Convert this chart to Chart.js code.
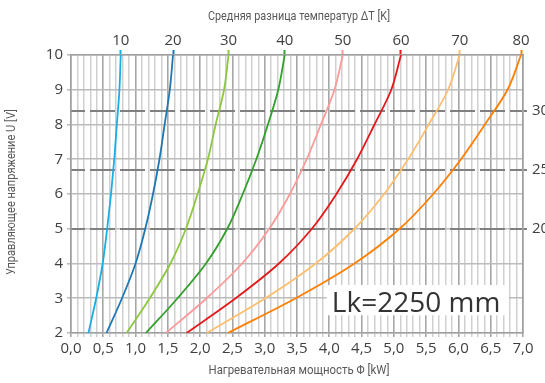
<!DOCTYPE html>
<html>
<head>
<meta charset="utf-8">
<script src="https://cdn.jsdelivr.net/npm/chart.js@4.4.1/dist/chart.umd.min.js"></script>
<style>
html, body { margin: 0; padding: 0; background: #fff; overflow: hidden; }
#wrap { width: 545px; height: 383px; overflow: hidden; }
canvas { display: block; }
</style>
</head>
<body>
<div id="wrap"><canvas id="chart" width="560" height="383"></canvas></div>
<script>
// управляющее напряжение U [V], общее для всех кривых
var U_LEVELS = [2, 3, 4, 5, 6, 7, 8, 9, 10];

// нагревательная мощность Φ [kW] для каждой ΔT
var PHI_DT10 = [0.27, 0.39, 0.49, 0.56, 0.62, 0.67, 0.71, 0.75, 0.77];
var PHI_DT20 = [0.55, 0.79, 1.00, 1.15, 1.27, 1.37, 1.45, 1.53, 1.58];
var PHI_DT30 = [0.86, 1.22, 1.54, 1.78, 1.96, 2.12, 2.24, 2.37, 2.44];
var PHI_DT40 = [1.16, 1.65, 2.09, 2.42, 2.66, 2.87, 3.05, 3.21, 3.31];
var PHI_DT50 = [1.47, 2.10, 2.65, 3.07, 3.39, 3.65, 3.87, 4.08, 4.21];
var PHI_DT60 = [1.79, 2.55, 3.22, 3.73, 4.11, 4.43, 4.70, 4.96, 5.11];
var PHI_DT70 = [2.10, 3.01, 3.79, 4.39, 4.85, 5.22, 5.54, 5.84, 6.02];
var PHI_DT80 = [2.43, 3.48, 4.39, 5.09, 5.61, 6.04, 6.41, 6.76, 6.97];

var DT_LABELS = ["10", "20", "30", "40", "50", "60", "70", "80"];
var DT_COLORS = ["#1aaee5", "#1f78b4", "#8dc73f", "#33a02c", "#fb9a99", "#e31a1c", "#fdbf6f", "#ff7f00"];

// правая шкала: метки и уровни U, на которых они стоят
var RIGHT_LABELS = ["20", "25", "30"];
var RIGHT_AT_U = [5, 6.7, 8.4];

var TITLE_TOP = "Средняя разница температур ΔT [K]";
var TITLE_BOTTOM = "Нагревательная мощность Φ [kW]";
var TITLE_LEFT = "Управляющее напряжение U [V]";
var BOX_TEXT = "Lk=2250 mm";

var SERIES = [PHI_DT10, PHI_DT20, PHI_DT30, PHI_DT40, PHI_DT50, PHI_DT60, PHI_DT70, PHI_DT80];

var TICK_FONT = { family: "'Open Sans', 'DejaVu Sans', sans-serif", size: 15 };
var TITLE_CSS = "13px Roboto, 'Open Sans', sans-serif";
var TICK_COLOR = "#404040";
var TITLE_COLOR = "#595959";
var BORDER_COLOR = "#a0a0a0";

function isMajor(v) {
    var r = Math.round(v * 10);
    return r % 5 === 0;
}

var datasets = SERIES.map(function (phi, i) {
    return {
        label: DT_LABELS[i],
        data: phi.map(function (p, k) { return { x: p, y: U_LEVELS[k] }; }),
        borderColor: DT_COLORS[i],
        borderWidth: 1.8,
        pointRadius: 0,
        cubicInterpolationMode: "monotone",
        fill: false
    };
});

// белая подложка с надписью Lk поверх сетки, под кривыми
var boxPlugin = {
    id: "lkBox",
    beforeDatasetsDraw: function (chart) {
        var sx = chart.scales.x, sy = chart.scales.y, ctx = chart.ctx;
        var l = sx.getPixelForValue(3.96), r = sx.getPixelForValue(6.78);
        var t = sy.getPixelForValue(3.38), b = sy.getPixelForValue(2.51);
        ctx.save();
        ctx.fillStyle = "#ffffff";
        ctx.fillRect(l, t, r - l, b - t);
        ctx.fillStyle = "#333333";
        ctx.font = "28px 'Open Sans', 'DejaVu Sans', sans-serif";
        ctx.textBaseline = "alphabetic";
        ctx.fillText(BOX_TEXT, sx.getPixelForValue(4.04), sy.getPixelForValue(2.61));
        ctx.restore();
    }
};

// подписи осей — узкий шрифт, поэтому ужимаем через maxWidth
var titlePlugin = {
    id: "axisTitles",
    afterDraw: function (chart) {
        var ctx = chart.ctx, a = chart.chartArea;
        var cx = (a.left + a.right) / 2 + 2;
        ctx.save();
        ctx.font = TITLE_CSS;
        ctx.fillStyle = TITLE_COLOR;
        ctx.textAlign = "center";
        ctx.textBaseline = "middle";
        ctx.fillText(TITLE_TOP, cx, 17, 182);
        ctx.fillText(TITLE_BOTTOM, cx, 371, 181);
        ctx.translate(12, (a.top + a.bottom) / 2 - 2);
        ctx.rotate(-Math.PI / 2);
        ctx.fillText(TITLE_LEFT, 0, 0, 166);
        ctx.restore();
    }
};

new Chart(document.getElementById("chart"), {
    type: "line",
    data: { datasets: datasets },
    options: {
        indexAxis: "y",
        responsive: false,
        animation: false,
        layout: { padding: 0 },
        plugins: { legend: { display: false }, tooltip: { enabled: false } },
        scales: {
            x: {
                type: "linear",
                position: "bottom",
                min: 0, max: 7,
                afterBuildTicks: function (scale) {
                    var t = [];
                    for (var i = 0; i <= 70; i++) t.push({ value: i / 10 });
                    scale.ticks = t;
                },
                afterFit: function (scale) { scale.height = 50; },
                ticks: {
                    autoSkip: false, maxRotation: 0, minRotation: 0,
                    color: TICK_COLOR, font: TICK_FONT, padding: 3,
                    callback: function (v) { return isMajor(v) ? v.toFixed(1).replace(".", ",") : ""; }
                },
                grid: {
                    color: function (c) { return c.tick && isMajor(c.tick.value) ? "#a6a6a6" : "#d0d0d0"; },
                    lineWidth: function (c) { return c.tick && isMajor(c.tick.value) ? 1.6 : 1.5; },
                    tickLength: 4
                },
                border: { color: BORDER_COLOR, width: 1.5 }
            },
            x2: {
                type: "linear",
                position: "top",
                min: 0, max: 7,
                afterBuildTicks: function (scale) {
                    scale.ticks = SERIES.map(function (phi) { return { value: phi[phi.length - 1] }; });
                },
                afterFit: function (scale) { scale.height = 55; },
                ticks: {
                    autoSkip: false, maxRotation: 0, minRotation: 0,
                    color: TICK_COLOR, font: TICK_FONT, padding: 0,
                    callback: function (v, i) { return DT_LABELS[i]; }
                },
                grid: {
                    drawOnChartArea: false,
                    tickLength: 5,
                    tickWidth: 2,
                    tickColor: function (c) { return DT_COLORS[c.index]; }
                },
                border: { color: BORDER_COLOR, width: 1.5 }
            },
            y: {
                type: "linear",
                position: "left",
                min: 2, max: 10,
                ticks: { stepSize: 1, color: TICK_COLOR, font: TICK_FONT, padding: 4 },
                afterFit: function (scale) { scale.width = 71; },
                grid: { color: "#bcbcbc", lineWidth: 1.6, tickLength: 4 },
                border: { color: BORDER_COLOR, width: 1.5 }
            },
            y2: {
                type: "linear",
                position: "right",
                min: 2, max: 10,
                afterBuildTicks: function (scale) {
                    scale.ticks = RIGHT_AT_U.map(function (u) { return { value: u }; });
                },
                afterFit: function (scale) { scale.width = 37; },
                ticks: {
                    autoSkip: false, color: TICK_COLOR, font: TICK_FONT, padding: 5,
                    callback: function (v, i) { return RIGHT_LABELS[i]; }
                },
                grid: { color: "#808080", lineWidth: 2, tickLength: 4, tickColor: "#808080", tickWidth: 2 },
                border: { color: BORDER_COLOR, width: 1.5, dash: [25, 5], dashOffset: 11 }
            }
        }
    },
    plugins: [boxPlugin, titlePlugin]
});
</script>
</body>
</html>
